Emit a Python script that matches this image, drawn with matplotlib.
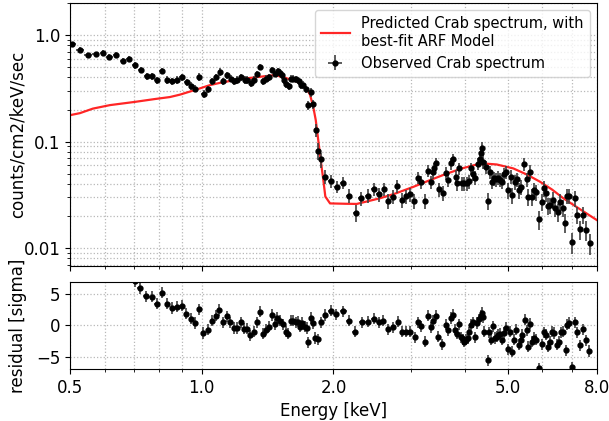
import numpy as np
import matplotlib
matplotlib.use("Agg")
import matplotlib.pyplot as plt
from matplotlib.ticker import FixedLocator, FixedFormatter, NullFormatter

# observed Crab spectrum (keV, counts/cm2/keV/sec)
obs_energy = [
    0.505, 0.527, 0.551, 0.573, 0.595, 0.615, 0.637, 0.660, 0.681, 0.704,
    0.725, 0.749, 0.769, 0.790, 0.811, 0.834, 0.857, 0.877, 0.900, 0.924,
    0.947, 0.967, 0.987, 1.010, 1.034, 1.055, 1.076, 1.099, 1.118, 1.140,
    1.165, 1.187, 1.206, 1.227, 1.254, 1.271, 1.294, 1.316, 1.337, 1.359,
    1.382, 1.404, 1.425, 1.447, 1.473, 1.491, 1.509, 1.528, 1.539, 1.558,
    1.580, 1.599, 1.619, 1.642, 1.665, 1.685, 1.706, 1.728, 1.749, 1.774,
    1.798, 1.822, 1.844, 1.870, 1.912, 1.974, 2.040, 2.106, 2.170, 2.252,
    2.315, 2.399, 2.475, 2.537, 2.609, 2.669, 2.731, 2.798, 2.868, 2.934,
    2.992, 3.060, 3.120, 3.175, 3.242, 3.289, 3.341, 3.371, 3.400, 3.425,
    3.479, 3.553, 3.615, 3.659, 3.706, 3.745, 3.805, 3.831, 3.877, 3.927,
    3.981, 4.031, 4.074, 4.117, 4.160, 4.218, 4.278, 4.316, 4.346, 4.369,
    4.399, 4.455, 4.502, 4.557, 4.605, 4.654, 4.703, 4.760, 4.803, 4.853,
    4.905, 4.957, 5.017, 5.081, 5.124, 5.189, 5.260, 5.316, 5.372, 5.458,
    5.527, 5.565, 5.624, 5.683, 5.753, 5.813, 5.896, 5.981, 6.063, 6.108,
    6.192, 6.248, 6.337, 6.425, 6.517, 6.596, 6.680, 6.772, 6.843, 6.916,
    7.015, 7.126, 7.190, 7.316, 7.421, 7.539, 7.699,
]
obs_flux = [
    0.82, 0.73, 0.645, 0.66, 0.68, 0.62, 0.65, 0.57, 0.60, 0.52,
    0.47, 0.41, 0.41, 0.375, 0.46, 0.38, 0.37, 0.38, 0.40, 0.36,
    0.335, 0.315, 0.405, 0.28, 0.31, 0.37, 0.40, 0.45, 0.37, 0.42,
    0.39, 0.37, 0.38, 0.40, 0.38, 0.38, 0.355, 0.38, 0.43, 0.50,
    0.37, 0.39, 0.40, 0.47, 0.43, 0.455, 0.44, 0.42, 0.38, 0.345,
    0.33, 0.39, 0.39, 0.385, 0.37, 0.34, 0.34, 0.31, 0.22, 0.29,
    0.225, 0.128, 0.082, 0.068, 0.047, 0.0426, 0.0376, 0.041, 0.031, 0.0215,
    0.0294, 0.031, 0.0357, 0.0321, 0.0356, 0.0277, 0.0305, 0.0386, 0.0283, 0.0306,
    0.0321, 0.0277, 0.0455, 0.0415, 0.0279, 0.0532, 0.042, 0.0514, 0.0561, 0.0623,
    0.0357, 0.0327, 0.0502, 0.0434, 0.0623, 0.068, 0.047, 0.0405, 0.056, 0.0405,
    0.0405, 0.0405, 0.0426, 0.056, 0.050, 0.046, 0.062, 0.069, 0.0775, 0.088,
    0.065, 0.058, 0.0279, 0.052, 0.042, 0.0452, 0.0442, 0.046, 0.044, 0.042,
    0.050, 0.052, 0.035, 0.047, 0.0315, 0.042, 0.0442, 0.035, 0.0376, 0.062,
    0.0442, 0.0305, 0.052, 0.0305, 0.035, 0.0337, 0.0186, 0.0273, 0.0363, 0.0327,
    0.0249, 0.0253, 0.0283, 0.024, 0.0218, 0.0273, 0.024, 0.0173, 0.031, 0.031,
    0.0114, 0.0294, 0.0206, 0.015, 0.0206, 0.0148, 0.0111,
]
# fractional 1-sigma errors on the observed flux
obs_relerr = [
    0.06, 0.06, 0.06, 0.06, 0.06, 0.06, 0.06, 0.07, 0.07, 0.07,
    0.07, 0.07, 0.07, 0.08, 0.07, 0.08, 0.08, 0.08, 0.08, 0.08,
    0.08, 0.08, 0.08, 0.09, 0.08, 0.08, 0.08, 0.08, 0.08, 0.08,
    0.08, 0.08, 0.08, 0.08, 0.08, 0.08, 0.08, 0.08, 0.08, 0.07,
    0.08, 0.08, 0.08, 0.07, 0.07, 0.07, 0.07, 0.07, 0.08, 0.08,
    0.08, 0.08, 0.08, 0.08, 0.08, 0.08, 0.08, 0.08, 0.10, 0.09,
    0.10, 0.14, 0.18, 0.16, 0.15, 0.14, 0.13, 0.13, 0.15, 0.18,
    0.15, 0.15, 0.14, 0.15, 0.14, 0.16, 0.15, 0.14, 0.16, 0.15,
    0.15, 0.16, 0.13, 0.14, 0.16, 0.13, 0.14, 0.13, 0.13, 0.13,
    0.15, 0.16, 0.14, 0.14, 0.13, 0.13, 0.14, 0.15, 0.13, 0.15,
    0.15, 0.15, 0.15, 0.13, 0.14, 0.15, 0.13, 0.13, 0.13, 0.13,
    0.14, 0.14, 0.19, 0.14, 0.15, 0.15, 0.15, 0.15, 0.15, 0.15,
    0.14, 0.14, 0.17, 0.15, 0.17, 0.16, 0.16, 0.17, 0.17, 0.14,
    0.16, 0.18, 0.15, 0.18, 0.17, 0.17, 0.21, 0.18, 0.17, 0.17,
    0.18, 0.18, 0.18, 0.18, 0.19, 0.18, 0.19, 0.20, 0.17, 0.17,
    0.22, 0.17, 0.19, 0.20, 0.19, 0.21, 0.22,
]

# predicted spectrum folded through the best-fit ARF
model_energy = [
    0.500, 0.527, 0.564, 0.617, 0.704, 0.782, 0.846, 0.892, 0.940, 0.991,
    1.044, 1.101, 1.223, 1.359, 1.470, 1.533, 1.591, 1.677, 1.730, 1.767,
    1.798, 1.822, 1.846, 1.870, 1.896, 1.916, 1.964, 2.125, 2.260, 2.555,
    2.765, 3.044, 3.323, 3.628, 3.932, 4.249, 4.485, 4.720, 5.151, 5.536,
    5.928, 6.314, 6.700, 7.315, 8.000,
]
model_flux = [
    0.177, 0.185, 0.204, 0.220, 0.236, 0.251, 0.262, 0.276, 0.295, 0.316,
    0.339, 0.356, 0.386, 0.406, 0.421, 0.403, 0.384, 0.356, 0.323, 0.277,
    0.212, 0.159, 0.103, 0.067, 0.0435, 0.0305, 0.0263, 0.0261, 0.0260, 0.0294,
    0.0325, 0.0376, 0.0435, 0.050, 0.056, 0.061, 0.0620, 0.061, 0.056, 0.049,
    0.042, 0.0355, 0.0294, 0.0232, 0.0183,
]

# residuals in units of sigma
res_energy = [
    0.703, 0.724, 0.747, 0.769, 0.790, 0.813, 0.834, 0.857, 0.878, 0.901,
    0.922, 0.944, 0.965, 0.986, 1.008, 1.032, 1.054, 1.076, 1.097, 1.118,
    1.140, 1.162, 1.183, 1.204, 1.227, 1.249, 1.269, 1.291, 1.314, 1.337,
    1.359, 1.380, 1.402, 1.425, 1.445, 1.468, 1.488, 1.512, 1.533, 1.556,
    1.577, 1.599, 1.619, 1.639, 1.659, 1.677, 1.697, 1.719, 1.737, 1.752,
    1.774, 1.795, 1.817, 1.841, 1.870, 1.916, 1.971, 2.030, 2.106, 2.173,
    2.243, 2.320, 2.395, 2.471, 2.537, 2.599, 2.669, 2.735, 2.804, 2.864,
    2.930, 2.992, 3.066, 3.115, 3.170, 3.237, 3.289, 3.336, 3.376, 3.425,
    3.472, 3.546, 3.615, 3.659, 3.706, 3.745, 3.791, 3.831, 3.871, 3.912,
    3.947, 3.980, 4.017, 4.053, 4.087, 4.130, 4.174, 4.218, 4.262, 4.307,
    4.339, 4.362, 4.385, 4.422, 4.502, 4.540, 4.588, 4.629, 4.671, 4.720,
    4.760, 4.803, 4.846, 4.897, 4.949, 5.017, 5.070, 5.124, 5.178, 5.233,
    5.299, 5.355, 5.400, 5.469, 5.527, 5.574, 5.624, 5.674, 5.734, 5.795,
    5.896, 5.981, 6.044, 6.108, 6.182, 6.248, 6.324, 6.391, 6.483, 6.551,
    6.621, 6.701, 6.786, 6.833, 6.905, 7.026, 7.138, 7.213, 7.328, 7.433,
    7.539, 7.683,
]
residual = [
    7.1, 6.0, 4.7, 4.6, 3.5, 5.3, 3.5, 2.8, 3.0, 3.2,
    1.9, 1.1, 0.4, 2.6, -1.2, -0.7, 0.8, 1.6, 2.5, 0.5,
    1.5, 0.5, -0.4, -0.4, 0.5, -0.5, -0.5, -1.6, -1.0, 0.5,
    2.2, -1.3, -0.7, -0.2, 1.7, 0.2, 1.2, 0.8, 0.2, -1.0,
    -1.3, 0.8, 0.8, 0.5, 0.6, -0.2, 0.4, -0.2, -0.4, -2.7,
    1.2, 0.4, -2.0, -2.2, 0.5, 1.7, 2.4, 1.8, 2.3, 0.8,
    -1.0, 0.5, 0.6, 1.1, 0.5, 0.8, -0.6, -0.3, 0.6, -1.0,
    -1.0, -1.0, -1.9, 0.5, -0.1, -2.6, 1.6, -0.3, 0.8, 1.6,
    -1.8, -3.0, 0.1, -0.8, 1.2, 1.7, -0.7, -1.3, 0.2, -1.9,
    -2.2, -2.6, -2.3, -2.0, -1.1, 0.1, 0.5, -1.9, 0.4, 1.0,
    1.6, 2.0, 1.3, -1.0, -5.6, -1.1, -2.3, -0.1, -2.0, -1.8,
    -1.5, -1.3, -2.3, -1.2, -0.4, -3.8, -1.0, -4.2, -2.3, -0.7,
    -3.1, -2.3, -1.5, 0.9, -0.8, -3.4, 0.3, -2.6, -2.0, -2.3,
    -6.9, -3.0, -1.1, -1.5, -3.4, -2.6, -1.0, -1.2, -3.1, -2.6,
    -1.1, -1.0, -4.0, 0.1, 0.4, -6.7, 0.5, -1.1, -3.2, -0.6,
    -2.4, -4.1,
]
res_sigma = 0.9

xtick_vals = [0.5, 1.0, 2.0, 5.0, 8.0]
xtick_labels = ["0.5", "1.0", "2.0", "5.0", "8.0"]

plt.rcParams["font.size"] = 12

fig = plt.figure(figsize=(6.09, 4.21), dpi=100)
ax = fig.add_axes([0.1149, 0.3682, 0.8654, 0.6247])
axr = fig.add_axes([0.1149, 0.1235, 0.8654, 0.2067], sharex=ax)

obs_energy = np.array(obs_energy)
obs_flux = np.array(obs_flux)
obs_err = obs_flux * np.array(obs_relerr)
obs_xerr = np.gradient(obs_energy) / 2
res_energy = np.array(res_energy)
res_xerr = np.gradient(res_energy) / 2

ax.plot(model_energy, model_flux, color="red", lw=1.6, alpha=0.85,
        label="Predicted Crab spectrum, with\nbest-fit ARF Model")
ax.errorbar(obs_energy, obs_flux, yerr=obs_err, xerr=obs_xerr, fmt="o",
            ms=3.5, color="k", ecolor="0.25", elinewidth=1.2, capsize=0,
            label="Observed Crab spectrum")
ax.set_xscale("log")
ax.set_yscale("log")
ax.set_xlim(0.5, 8.0)
ax.set_ylim(0.0068, 2.0)
ax.set_yticks([0.01, 0.1, 1.0])
ax.set_yticklabels(["0.01", "0.1", "1.0"])
ax.set_ylabel("counts/cm2/keV/sec")
ax.yaxis.set_label_coords(-0.082, 0.5)
ax.grid(True, which="both", ls=":", color="0.72", lw=0.9)
ax.legend(loc="upper right", fontsize=10.5)
ax.tick_params(axis="x", which="both", labelbottom=False)

axr.errorbar(res_energy, residual, yerr=res_sigma, xerr=res_xerr, fmt="o",
             ms=3.5, color="k", ecolor="0.25", elinewidth=1.2, capsize=0)
axr.set_ylim(-7, 7)
axr.set_yticks([-5, 0, 5])
axr.set_ylabel("residual [sigma]")
axr.yaxis.set_label_coords(-0.082, 0.5)
axr.set_xlabel("Energy [keV]")
axr.grid(True, which="both", ls=":", color="0.72", lw=0.9)

axr.xaxis.set_major_locator(FixedLocator(xtick_vals))
axr.xaxis.set_major_formatter(FixedFormatter(xtick_labels))
axr.xaxis.set_minor_formatter(NullFormatter())
axr.set_xlim(0.5, 8.0)

fig.savefig("out.png", dpi=100)
